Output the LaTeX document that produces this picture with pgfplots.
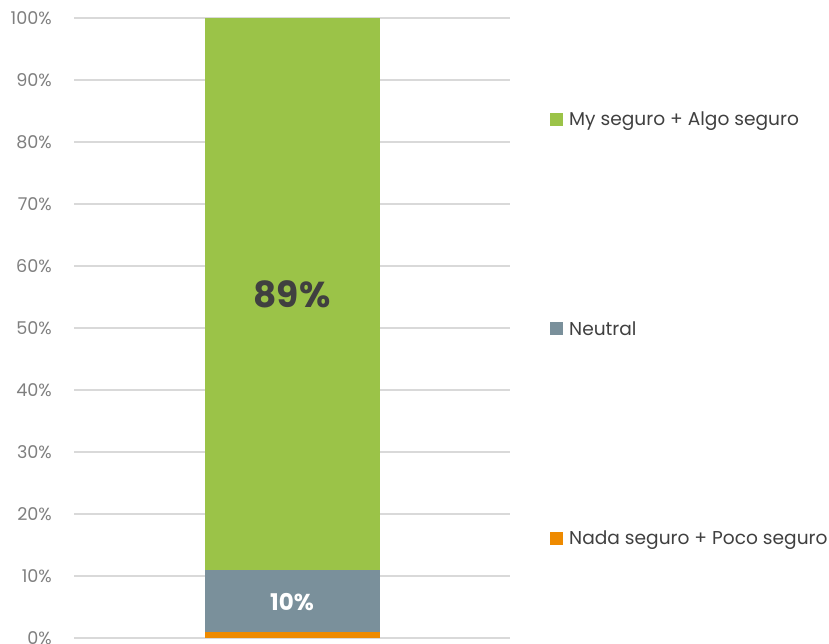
\documentclass[border=0pt]{standalone}
\usepackage{pgfplots}
\pgfplotsset{compat=1.18}
\usepackage{fontspec}
\setmainfont{Poppins}
\definecolor{cgreen}{HTML}{9BC348}
\definecolor{cgray}{HTML}{7A909B}
\definecolor{corange}{HTML}{EE8A00}
\definecolor{cgrid}{HTML}{D9D9D9}
\definecolor{ctick}{HTML}{7F7F7F}
\definecolor{ctext}{HTML}{404040}
\begin{document}
\begin{tikzpicture}[x=1pt,y=1pt]
\path[use as bounding box] (0,0) rectangle (829,644);
\begin{axis}[
  at={(74pt,6pt)}, anchor=south west,
  scale only axis, width=436pt, height=620pt,
  xmin=-1, xmax=1, ymin=0, ymax=100,
  ybar stacked, bar width=175pt,
  axis line style={draw=none},
  xtick=\empty,
  ytick={0,10,...,100},
  yticklabel={\pgfmathprintnumber{\tick}\%},
  /pgf/number format/assume math mode=true,
  yticklabel style={font=\fontsize{17.6}{20}\selectfont, color=ctick, anchor=east, inner sep=0pt, xshift=-22pt},
  major tick length=0pt,
  ymajorgrids, major grid style={draw=cgrid, line width=1.5pt},
  reverse legend,
  legend cell align=left,
  legend style={at={(1.0917,0.8495)}, anchor=north west, draw=none, fill=none, inner sep=0pt,
    font=\fontsize{18.6}{22}\selectfont, text=ctext,
    nodes={inner sep=0pt}, row sep=194.5pt,
    /tikz/every odd column/.append style={column sep=6pt}},
  legend image code/.code={\fill[#1] (0pt,-6.5pt) rectangle (13pt,6.5pt);},
]
\addplot[fill=corange, draw=none] coordinates {(0,1)};
\addlegendentry{Nada seguro + Poco seguro}
\addplot[fill=cgray, draw=none, nodes near coords={10\%},
  every node near coord/.style={font=\fontsize{23}{27}\selectfont\bfseries, text=white, anchor=center, yshift=-1.5pt}]
  coordinates {(0,10)};
\addlegendentry{Neutral}
\addplot[fill=cgreen, draw=none, nodes near coords={89\%},
  every node near coord/.style={font=\fontsize{36}{40}\selectfont\bfseries, text=ctext, anchor=center}]
  coordinates {(0,89)};
\addlegendentry{My seguro + Algo seguro}
\end{axis}
\end{tikzpicture}
\end{document}
